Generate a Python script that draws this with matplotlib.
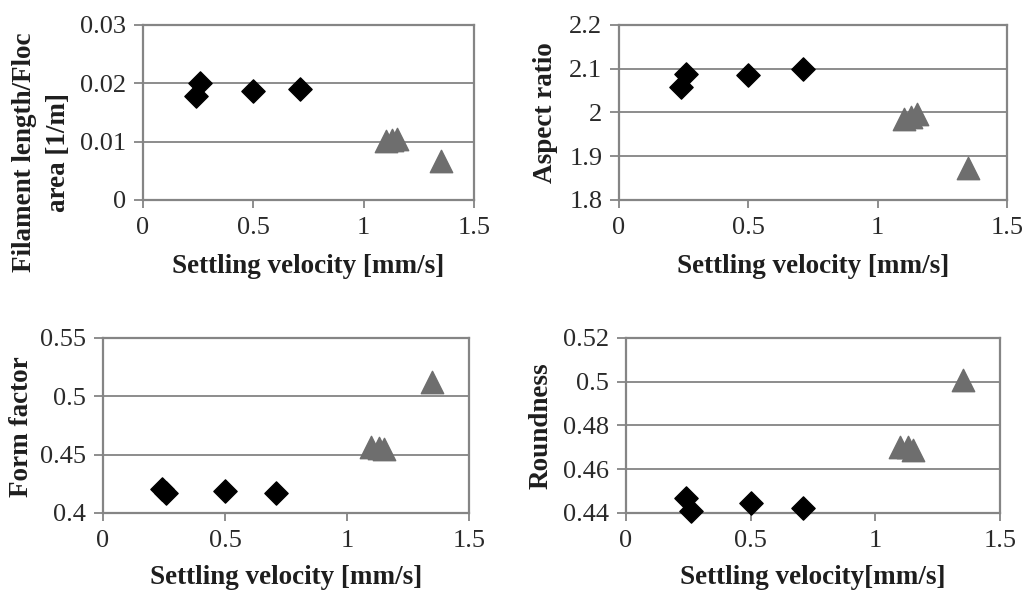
import matplotlib
matplotlib.use("Agg")
import matplotlib.pyplot as plt

plt.rcParams['font.family'] = ['Liberation Serif', 'DejaVu Serif']

# Diamond series (low settling velocity)
dia_x = [0.24, 0.26, 0.50, 0.71]
# Triangle series (high settling velocity)
tri_x = [1.10, 1.13, 1.15, 1.35]

fil_dia = [0.0178, 0.0200, 0.0187, 0.0191]
fil_tri = [0.0101, 0.0103, 0.0105, 0.0066]

asp_dia = [2.058, 2.088, 2.086, 2.099]
asp_tri = [1.985, 1.990, 1.996, 1.873]

ff_dia = [0.4205, 0.4172, 0.4185, 0.4168]
ff_tri = [0.4565, 0.4560, 0.4545, 0.5125]

rnd_dia = [0.4468, 0.4410, 0.4447, 0.4425]
rnd_tri = [0.4700, 0.4700, 0.4688, 0.5010]

x_ticks = [0, 0.5, 1, 1.5]
x_ticklabels = ['0', '0.5', '1', '1.5']

W, H = 1023, 591

panels = [
    dict(pos=[0.1398, 0.6616, 0.3236, 0.2961], yd=fil_dia, yt=fil_tri,
         ylim=(0, 0.03), yticks=[0, 0.01, 0.02, 0.03],
         yticklabels=['0', '0.01', '0.02', '0.03'],
         ylabel='Filament length/Floc\narea [1/m]', ylab_px=(41.5, 152),
         xlabel='Settling velocity [mm/s]', xlab_y=-0.31),
    dict(pos=[0.6051, 0.6616, 0.3793, 0.2961], yd=asp_dia, yt=asp_tri,
         ylim=(1.8, 2.2), yticks=[1.8, 1.9, 2.0, 2.1, 2.2],
         yticklabels=['1.8', '1.9', '2', '2.1', '2.2'],
         ylabel='Aspect ratio', ylab_px=(546, 113),
         xlabel='Settling velocity [mm/s]', xlab_y=-0.31),
    dict(pos=[0.1007, 0.1320, 0.3578, 0.2961], yd=ff_dia, yt=ff_tri,
         ylim=(0.4, 0.55), yticks=[0.4, 0.45, 0.5, 0.55],
         yticklabels=['0.4', '0.45', '0.5', '0.55'],
         ylabel='Form factor', ylab_px=(22, 427),
         xlabel='Settling velocity [mm/s]', xlab_y=-0.30),
    dict(pos=[0.6119, 0.1320, 0.3656, 0.2961], yd=rnd_dia, yt=rnd_tri,
         ylim=(0.44, 0.52), yticks=[0.44, 0.46, 0.48, 0.5, 0.52],
         yticklabels=['0.44', '0.46', '0.48', '0.5', '0.52'],
         ylabel='Roundness', ylab_px=(541, 426),
         xlabel='Settling velocity[mm/s]', xlab_y=-0.30),
]

fig = plt.figure(figsize=(W / 100, H / 100), dpi=100)
frame_col = '#858585'
txt_col = '#1e1e1e'
for p in panels:
    ax = fig.add_axes(p['pos'])
    ax.set_xlim(0, 1.5)
    ax.set_ylim(*p['ylim'])
    ax.set_xticks(x_ticks)
    ax.set_xticklabels(x_ticklabels)
    ax.set_yticks(p['yticks'])
    ax.set_yticklabels(p['yticklabels'])
    ax.yaxis.grid(True, color='#8c8c8c', linewidth=1.4)
    ax.set_axisbelow(True)
    for s in ax.spines.values():
        s.set_color(frame_col)
        s.set_linewidth(1.6)
    ax.tick_params(direction='out', width=1.3, color=frame_col,
                   labelsize=19, labelcolor='#2a2a2a')
    ax.tick_params(axis='x', length=6, pad=6)
    ax.tick_params(axis='y', length=6.5, pad=5.5)
    ax.scatter(dia_x, p['yd'], marker='D', s=140, color='black', zorder=3, clip_on=False)
    ax.scatter(tri_x, p['yt'], marker='^', s=260, color='#6e6e6e', zorder=3, clip_on=False)
    ax.set_xlabel(p['xlabel'], fontsize=19.5, fontweight='bold', color=txt_col)
    ax.xaxis.set_label_coords(0.5, p['xlab_y'])
    fig.text(p['ylab_px'][0] / W, 1 - p['ylab_px'][1] / H, p['ylabel'],
             rotation=90, ha='center', va='center', fontsize=19.5,
             fontweight='bold', color=txt_col, linespacing=1.45,
             multialignment='center')

fig.savefig('out.png', dpi=100)
